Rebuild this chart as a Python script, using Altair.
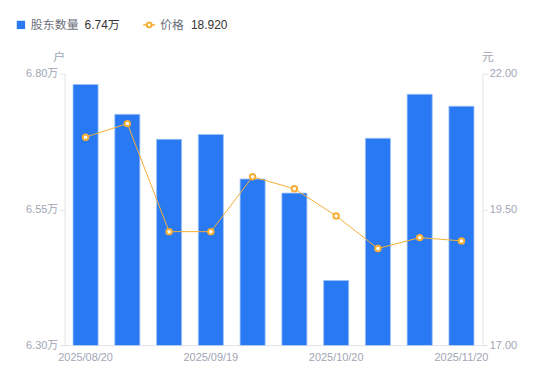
import altair as alt
import pandas as pd

dates = ["2025/08/20", "2025/08/31", "2025/09/10", "2025/09/19", "2025/09/30",
         "2025/10/10", "2025/10/20", "2025/10/31", "2025/11/10", "2025/11/20"]
holders = [6.780, 6.725, 6.679, 6.688, 6.606, 6.580, 6.419, 6.681, 6.762, 6.740]
price = [20.83, 21.08, 19.09, 19.09, 20.10, 19.88, 19.38, 18.78, 18.98, 18.92]
x_labels = ["2025/08/20", "2025/09/19", "2025/10/20", "2025/11/20"]
left_ticks = [6.30, 6.55, 6.80]
right_ticks = [17.0, 19.5, 22.0]
legend_names = ["股东数量", "价格"]
legend_values = ["6.74万", "18.920"]

BLUE = "#2979F2"
ORANGE = "#F7AE35"
AXIS_GRAY = "#E3E3E8"
LABEL_GRAY = "#A2A5B4"
FONT = "Liberation Sans, Noto Sans CJK SC, sans-serif"

df = pd.DataFrame({"date": dates, "holders": holders, "price": price})

x_enc = alt.X("date:O", sort=dates, title=None,
              scale=alt.Scale(paddingInner=0.4, paddingOuter=0.2),
              axis=alt.Axis(values=x_labels, labelAngle=0, tickSize=0, labelPadding=6,
                            domainColor=AXIS_GRAY, labelColor=LABEL_GRAY, labelFontSize=11,
                            labelFont=FONT, labelOverlap=False))

bars = alt.Chart(df).mark_bar(color=BLUE, stroke="#9EC2F8", strokeWidth=0.8, clip=True).encode(
    x=x_enc,
    y=alt.Y("holders:Q", scale=alt.Scale(domain=[6.30, 6.80], nice=False, zero=False),
            axis=alt.Axis(values=left_ticks, labelExpr="format(datum.value, '.2f') + '万'",
                          grid=False, domainColor=AXIS_GRAY, tickColor=AXIS_GRAY, tickSize=5,
                          labelPadding=2, labelColor=LABEL_GRAY, labelFontSize=11, labelFont=FONT,
                          title="户", titleAngle=0, titleX=-6, titleY=-10, titleAlign="center",
                          titleBaseline="bottom", titleColor=LABEL_GRAY, titleFontWeight="normal",
                          titleFontSize=12, titleFont=FONT)),
)

price_y = alt.Y("price:Q", scale=alt.Scale(domain=[17, 22], nice=False, zero=False),
                axis=alt.Axis(values=right_ticks, format=".2f", orient="right",
                              grid=False, domainColor=AXIS_GRAY, tickColor=AXIS_GRAY, tickSize=5,
                              labelPadding=2, labelColor=LABEL_GRAY, labelFontSize=11, labelFont=FONT,
                              title="元", titleAngle=0, titleX=5, titleY=-10, titleAlign="center",
                              titleBaseline="bottom", titleColor=LABEL_GRAY, titleFontWeight="normal",
                              titleFontSize=12, titleFont=FONT))

line = alt.Chart(df).mark_line(color=ORANGE, strokeWidth=1).encode(
    x=alt.X("date:O", sort=dates),
    y=price_y,
)
points = alt.Chart(df).mark_point(shape="circle", filled=True, fill="white", stroke=ORANGE,
                                  strokeWidth=2, size=30, opacity=1).encode(
    x=alt.X("date:O", sort=dates),
    y=price_y,
)
price_layer = alt.layer(line, points)

# custom legend
one = pd.DataFrame({"k": [0]})
leg_sq = alt.Chart(one).mark_square(color=BLUE, size=70, opacity=1).encode(
    x=alt.value(-44), y=alt.value(-49))
leg_t1 = alt.Chart(one).mark_text(align="left", baseline="middle", fontSize=12, font=FONT,
                                  color="#6B6E7A").encode(
    x=alt.value(-34), y=alt.value(-49), text=alt.value(legend_names[0]))
leg_v1 = alt.Chart(one).mark_text(align="left", baseline="middle", fontSize=12, font=FONT,
                                  color="#333333").encode(
    x=alt.value(20), y=alt.value(-49), text=alt.value(legend_values[0]))
leg_ln = alt.Chart(one).mark_rule(color=ORANGE, strokeWidth=1.5).encode(
    x=alt.value(79), x2=alt.value(91), y=alt.value(-49))
leg_pt = alt.Chart(one).mark_point(shape="circle", filled=True, fill="white", stroke=ORANGE,
                                   strokeWidth=2, size=22, opacity=1).encode(
    x=alt.value(85), y=alt.value(-49))
leg_t2 = alt.Chart(one).mark_text(align="left", baseline="middle", fontSize=12, font=FONT,
                                  color="#6B6E7A").encode(
    x=alt.value(96), y=alt.value(-49), text=alt.value(legend_names[1]))
leg_v2 = alt.Chart(one).mark_text(align="left", baseline="middle", fontSize=12, font=FONT,
                                  color="#333333").encode(
    x=alt.value(127), y=alt.value(-49), text=alt.value(legend_values[1]))

chart = alt.layer(bars, price_layer, leg_sq, leg_t1, leg_v1, leg_ln, leg_pt, leg_t2, leg_v2
                  ).resolve_scale(y="independent").properties(
    width=420, height=273,
    autosize=alt.AutoSizeParams(type="none"),
    padding={"left": 57, "top": 65, "right": 60, "bottom": 25},
).configure_view(stroke=None)

chart.save("out.html", embed_options={"renderer": "svg", "actions": False})
